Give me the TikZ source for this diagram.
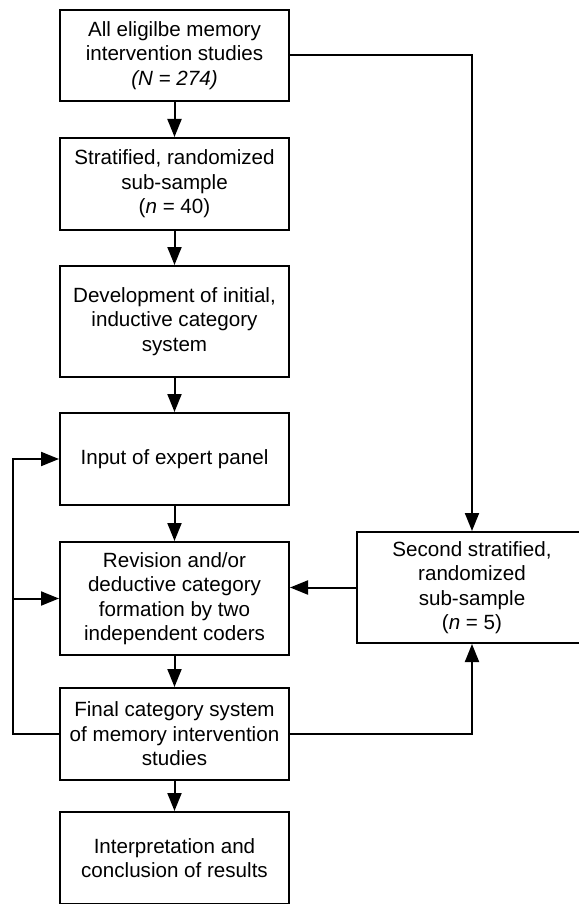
\documentclass[tikz,border=0pt]{standalone}
\usepackage{fontspec}
\setmainfont{Liberation Sans}
\usetikzlibrary{arrows.meta}
\begin{document}
\begin{tikzpicture}[x=1pt,y=-1pt,
  box/.style={draw=black,line width=2pt,minimum width=229pt,align=center,
    font=\fontsize{20.6}{24.5}\selectfont,inner sep=0pt},
  conn/.style={line width=2pt,-{Triangle[width=14pt,length=18pt]}},
  plainline/.style={line width=2pt}]
\useasboundingbox (0,0) rectangle (578,904);
\node[box,minimum height=91pt] (b1) at (174.5,55.5) {All eligilbe memory\\intervention studies\\\textit{(N = 274)}};
\node[box,minimum height=92pt] (b2) at (174.5,184) {Stratified, randomized\\sub-sample\\(\textit{n} = 40)};
\node[box,minimum height=111pt] (b3) at (174.5,321.5) {Development of initial,\\inductive category\\system};
\node[box,minimum height=92pt] (b4) at (174.5,459) {Input of expert panel};
\node[box,minimum height=113pt] (b5) at (174.5,598.5) {Revision and/or\\deductive category\\formation by two\\independent coders};
\node[box,minimum height=92pt] (b6) at (174.5,734) {Final category system\\of memory intervention\\studies};
\node[box,minimum height=92pt] (b7) at (174.5,858) {Interpretation and\\conclusion of results};
\node[box,minimum width=230pt,minimum height=111pt] (r) at (472,587.5) {Second stratified,\\randomized\\sub-sample\\(\textit{n} = 5)};
\coordinate (lb) at (13,0);
\draw[conn] (b1) -- (b2);
\draw[conn] (b2) -- (b3);
\draw[conn] (b3) -- (b4);
\draw[conn] (b4) -- (b5);
\draw[conn] (b5) -- (b6);
\draw[conn] (b6) -- (b7);
\draw[conn] (b1.east) -| (r.north);
\draw[conn] (r.west) -- (b5.east |- r.west);
\draw[conn] (b6.east) -| (r.south);
\draw[conn] (b6.west) -- (lb |- b6.west) -- (lb |- b4.west) -- (b4.west);
\draw[conn] (lb |- b5.west) -- (b5.west);
\end{tikzpicture}
\end{document}
